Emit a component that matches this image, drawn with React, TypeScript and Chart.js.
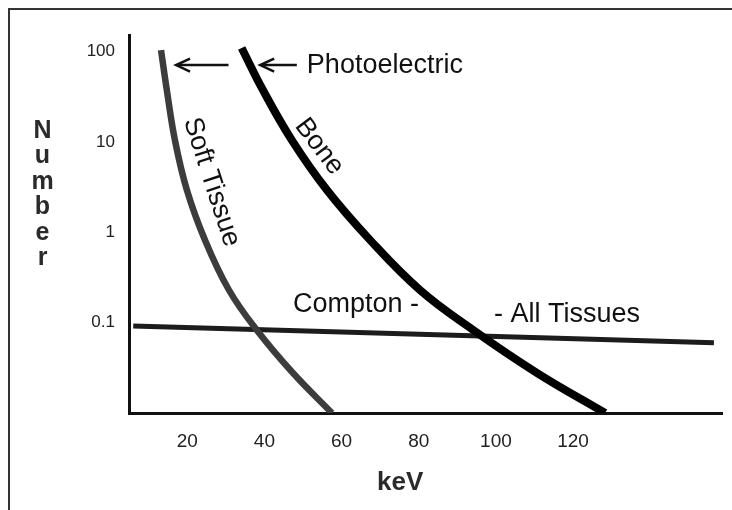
import React, { useEffect, useRef } from "react";
import { Chart, registerables } from "chart.js";

Chart.register(...registerables);

// ---- data ----
const xTickValues = [20, 40, 60, 80, 100, 120];
const yTickValues = [0.1, 1, 10, 100];
const yTickLabels = ["0.1", "1", "10", "100"];

const softTissueKeV = [13.2, 14.7, 16.8, 19.9, 24.6, 30.8, 38.0, 47.4, 57.5];
const softTissueNumber = [104, 37.7, 10.5, 2.94, 0.82, 0.23, 0.083, 0.0277, 0.01];

const boneKeV = [34.1, 39.6, 47.1, 56.2, 67.4, 80.3, 94.1, 110.7, 128.3];
const boneNumber = [110, 37.7, 10.5, 2.94, 0.82, 0.23, 0.083, 0.0277, 0.01];

const comptonKeV = [6, 156.5];
const comptonNumber = [0.092, 0.06];

// annotations (anchored in data units)
const labelTexts = ["Photoelectric", "Compton -", "- All Tissues", "Soft Tissue", "Bone"];
const labelKeV = [51.0, 47.4, 99.5, 26.3, 54.2];
const labelNumber = [71, 0.157, 0.1216, 3.6, 8.9];

const arrowFromKeV = [30.7, 48.4];
const arrowToKeV = [17.1, 38.9];
const arrowNumber = 71;

const xTitle = "keV";
const yTitle = "Number";

// ---- styles ----
const FONT = "'Liberation Sans', Arial, Helvetica, sans-serif";
const labelAngles = [0, 0, 0, 72, 53];
const labelAligns: CanvasTextAlign[] = ["left", "left", "left", "center", "center"];

const annotationPlugin = {
  id: "annotations",
  afterDatasetsDraw(chart: any) {
    const { ctx, chartArea } = chart;
    const xs = chart.scales.x;
    const ys = chart.scales.y;
    ctx.save();

    // arrows
    ctx.strokeStyle = "#111";
    ctx.lineWidth = 2.5;
    ctx.lineJoin = "miter";
    arrowFromKeV.forEach((from, i) => {
      const x1 = xs.getPixelForValue(from);
      const x2 = xs.getPixelForValue(arrowToKeV[i]);
      const yy = ys.getPixelForValue(arrowNumber);
      ctx.beginPath();
      ctx.moveTo(x1, yy);
      ctx.lineTo(x2 + 2, yy);
      ctx.stroke();
      ctx.beginPath();
      ctx.moveTo(x2 + 14, yy - 6.5);
      ctx.lineTo(x2, yy);
      ctx.lineTo(x2 + 14, yy + 6.5);
      ctx.stroke();
    });

    // text labels
    ctx.fillStyle = "#111";
    ctx.font = `27px ${FONT}`;
    labelTexts.forEach((t, i) => {
      const px = xs.getPixelForValue(labelKeV[i]);
      const py = ys.getPixelForValue(labelNumber[i]);
      ctx.save();
      ctx.translate(px, py);
      ctx.rotate((labelAngles[i] * Math.PI) / 180);
      ctx.textAlign = labelAligns[i];
      ctx.textBaseline = "middle";
      ctx.fillText(t, 0, 0);
      ctx.restore();
    });

    // x title
    ctx.fillStyle = "#2a2a2a";
    ctx.font = `bold 26px ${FONT}`;
    ctx.textAlign = "center";
    ctx.textBaseline = "middle";
    ctx.fillText(xTitle, xs.getPixelForValue(75.2), xs.top + 70);

    // y title, stacked letters
    ctx.font = `bold 25px ${FONT}`;
    ctx.textBaseline = "alphabetic";
    const letters = Array.from(yTitle);
    letters.forEach((ch, i) => {
      ctx.fillText(ch, chartArea.left - 86.5, chartArea.top + 103 + i * 25.4);
    });

    ctx.restore();
  },
};

function resetPadding(s: any) {
  s.paddingLeft = 0;
  s.paddingRight = 0;
  s.paddingTop = 0;
  s.paddingBottom = 0;
}

export default function App() {
  const ref = useRef<HTMLCanvasElement>(null);

  useEffect(() => {
    const canvas = ref.current!;
    const chart = new Chart(canvas, {
      type: "line",
      data: {
        datasets: [
          {
            label: "Soft Tissue",
            data: softTissueKeV.map((x, i) => ({ x, y: softTissueNumber[i] })),
            borderColor: "#3c3c3c",
            borderWidth: 6.5,
            pointRadius: 0,
            tension: 0.4,
            fill: false,
          },
          {
            label: "Bone",
            data: boneKeV.map((x, i) => ({ x, y: boneNumber[i] })),
            borderColor: "#000000",
            borderWidth: 8,
            pointRadius: 0,
            tension: 0.4,
            fill: false,
          },
          {
            label: "Compton - All Tissues",
            data: comptonKeV.map((x, i) => ({ x, y: comptonNumber[i] })),
            borderColor: "#1c1c1c",
            borderWidth: 5,
            pointRadius: 0,
            tension: 0,
            fill: false,
          },
        ],
      },
      options: {
        animation: false,
        responsive: false,
        devicePixelRatio: 1,
        events: [],
        layout: { padding: { left: 0, top: 35, right: 10, bottom: 37 } },
        plugins: { legend: { display: false }, tooltip: { enabled: false } },
        scales: {
          x: {
            type: "linear",
            min: 4.9,
            max: 158.6,
            grid: { display: false, drawTicks: false },
            border: { display: true, color: "#111", width: 3 },
            ticks: {
              padding: 17,
              color: "#222",
              font: { size: 19, family: FONT },
              maxRotation: 0,
              callback: (v: any) => String(v),
            },
            afterBuildTicks: (s: any) => {
              s.ticks = xTickValues.map((v) => ({ value: v }));
            },
            afterFit: (s: any) => {
              s.height = 60;
              resetPadding(s);
            },
          },
          y: {
            type: "logarithmic",
            min: 0.01,
            max: 153,
            grid: { display: false, drawTicks: false },
            border: { display: true, color: "#111", width: 3 },
            ticks: {
              padding: 14,
              color: "#222",
              font: { size: 17, family: FONT },
              callback: (v: any) => {
                const idx = yTickValues.indexOf(Number(v));
                return idx >= 0 ? yTickLabels[idx] : "";
              },
            },
            afterBuildTicks: (s: any) => {
              s.ticks = yTickValues.map((v) => ({ value: v }));
            },
            afterFit: (s: any) => {
              s.width = 129;
              resetPadding(s);
            },
          },
        },
      } as any,
      plugins: [annotationPlugin],
    });
    return () => chart.destroy();
  }, []);

  return (
    <div
      style={{
        position: "fixed",
        left: 0,
        top: 0,
        width: 732,
        height: 510,
        overflow: "hidden",
        background: "#fff",
      }}
    >
      <div
        style={{
          position: "absolute",
          left: 8,
          top: 8,
          width: 800,
          height: 600,
          border: "2px solid #333",
        }}
      />
      <canvas
        ref={ref}
        width={732}
        height={510}
        style={{ position: "absolute", left: 0, top: 0, width: 732, height: 510 }}
      />
    </div>
  );
}
